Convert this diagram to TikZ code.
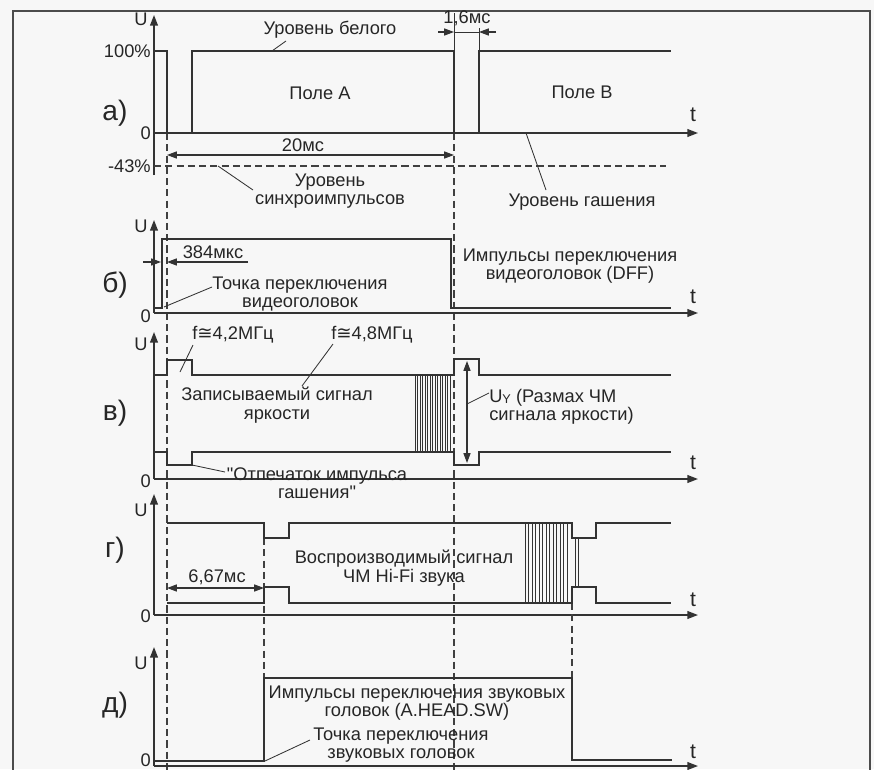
\documentclass[tikz,border=0pt]{standalone}
\usepackage{fontspec}
\setmainfont{Liberation Sans}[Ligatures=TeXOff]
\newfontfamily\symfont{DejaVu Sans}
\usetikzlibrary{arrows.meta}

\begin{document}
\begin{tikzpicture}[
  x=0.025cm, y=-0.025cm,
  sig/.style={line width=1.6pt, draw=black!80},
  taxis/.style={line width=1pt, draw=black!80, -{Triangle[length=7.5pt,width=5.5pt]}},
  dim/.style={line width=0.8pt, draw=black!80, {Triangle[length=7pt,width=5pt]}-{Triangle[length=7pt,width=5pt]}},
  dimhalf/.style={line width=0.8pt, draw=black!80, -{Triangle[length=7pt,width=5pt]}},
  guide/.style={line width=0.8pt, draw=black!75, dash pattern=on 5pt off 3pt},
  lead/.style={line width=0.6pt, draw=black!80},
  hatch/.style={line width=0.45pt, draw=black!80},
  txt/.style={font=\fontsize{13}{13}\selectfont, text=black!85, inner sep=0pt, align=center},
  lvl/.style={font=\fontsize{13}{13}\selectfont, text=black!85, inner sep=0pt, anchor=east},
  panel/.style={font=\fontsize{20}{20}\selectfont, text=black!85, inner sep=0pt},
]
\fill[black!3] (0,0) rectangle (874,769);
\useasboundingbox (0,0) rectangle (874,769);
\draw[line width=1.1pt, draw=black!70] (13,795) -- (13,11) -- (870,11) -- (870,795);

\draw[guide] (167,133) -- (167,790);
\draw[guide] (454,133) -- (454,790);

% а)
\draw[taxis] (154,175) -- (154,15);
\draw[taxis] (154,133) -- (698,133);
\draw[guide] (154,166) -- (666,166);
\draw[sig] (154,51) -| (167,133) -| (192,51) -| (454,133) -| (479,51) -- (671,51);
\draw[lead] (454,51) -- (454,13);
\draw[lead] (479,51) -- (479,28);
\draw[dimhalf] (438,32) -- (454,32);
\draw[dimhalf] (496,32) -- (479,32);
\draw[lead] (454,32) -- (479,32);
\draw[dim] (167,155) -- (454,155);
\node[txt] (dur16) at (467,18) {1,6мс};
\node[txt] (dur20) at (303,145) {20мс};
\node[txt] (white) at (330,30) {Уровень белого};
\draw[lead] (272,51) -- (286,41);
\node[txt] (fieldA) at (320,93) {Поле А};
\node[txt] (fieldB) at (582,92) {Поле В};
\node[txt] (sync) at (330,191) {Уровень\\синхроимпульсов};
\draw[lead] (218,166) -- (253,190);
\node[txt] (blank) at (582,202) {Уровень гашения};
\draw[lead] (526,133) -- (546,190);
\node[panel] (pa) at (115,113) {а)};
\node[lvl] (ua100) at (151,51) {100\%};
\node[lvl] (ua0) at (151,133) {0};
\node[lvl] (ua43) at (151,166) {-43\%};

% б)
\draw[taxis] (154,313) -- (154,220);
\draw[taxis] (154,313) -- (698,313);
\draw[sig] (154,308) -| (162,239) -| (451,308) -- (671,308);
\draw[dimhalf] (143,262) -- (161,262);
\draw[dimhalf] (248,262) -- (167,262);
\node[txt] (dur384) at (213,252) {384мкс};
\node[txt] (vpoint) at (300,294) {Точка переключения\\видеоголовок};
\draw[lead] (164,307) -- (212,287);
\node[txt] (dff) at (570,266) {Импульсы переключения\\видеоголовок (DFF)};
\node[panel] (pb) at (115,285) {б)};
\node[lvl] (ub0) at (151,316) {0};

% в)
\draw[taxis] (154,479) -- (154,332);
\draw[taxis] (154,479) -- (698,479);
\draw[sig] (154,375) -| (167,360) -| (192,375) -| (454,359) -| (479,375) -- (671,375);
\draw[sig] (154,452) -| (167,465) -| (192,452) -| (454,465) -| (479,452) -- (671,452);
\foreach \x in {415,417.5,...,450} \draw[hatch] (\x,375) -- (\x,452);
\draw[dim] (467,361) -- (467,463);
\node[txt, anchor=west, align=left] (uy) at (489,407) {U\raisebox{-1pt}{\fontsize{9}{9}\selectfont Y} (Размах ЧМ\\сигнала яркости)};
\draw[lead] (467,404) -- (489,393);
\node[txt] (f42) at (233,335) {f{\symfont ≅}4,2МГц};
\draw[lead] (180,372) -- (193,345);
\node[txt] (f48) at (372,335) {f{\symfont ≅}4,8МГц};
\draw[lead] (302,386) -- (333,344);
\node[txt] (rec) at (277,405) {Записываемый сигнал\\яркости};
\node[txt] (print) at (317,483) {"Отпечаток импульса\\гашения"};
\draw[lead] (192,465) -- (225,472);
\node[panel] (pc) at (115,413) {в)};
\node[lvl] (uc0) at (151,481) {0};

% г)
\draw[taxis] (154,615) -- (154,494);
\draw[taxis] (154,615) -- (698,615);
\draw[guide] (264,538) -- (264,678);
\draw[guide] (572,603) -- (572,678);
\draw[sig] (167,523) -| (264,538) -| (289,523) -| (572,538) -| (596,523) -- (671,523);
\draw[sig] (167,603) -| (264,587) -| (289,603) -| (572,587) -| (596,603) -- (671,603);
\foreach \x in {525,528.5,...,570} \draw[hatch] (\x,523) -- (\x,603);
\foreach \x in {575,578} \draw[hatch] (\x,538) -- (\x,587);
\draw[dim] (167,588) -- (264,588);
\node[txt] (dur667) at (217,577) {6,67мс};
\node[txt] (play) at (404,568) {Воспроизводимый сигнал\\ЧМ Hi-Fi звука};
\node[panel] (pd) at (115,550) {г)};
\node[lvl] (ud0) at (151,616) {0};

% д)
\draw[taxis] (154,766) -- (154,647);
\draw[taxis] (154,766) -- (698,766);
\draw[sig] (154,761) -| (264,678) -| (572,760) -- (672,760);
\node[txt] (hsw) at (417,703) {Импульсы переключения звуковых\\головок (A.HEAD.SW)};
\node[txt] (apoint) at (401,745) {Точка переключения\\звуковых головок};
\draw[lead] (265,761) -- (310,740);
\node[panel] (pe) at (115,705) {д)};
\node[lvl] (ue0) at (151,760) {0};

\foreach \y/\n in {19/a,226/b,344/c,510/d,663/e}
  \node[txt] (u\n) at (141,\y) {U};
\foreach \y/\n in {115/a,297/b,463/c,600/d,752/e}
  \node[txt, font=\fontsize{15}{15}\selectfont] (t\n) at (693,\y) {t};
\end{tikzpicture}
\end{document}
